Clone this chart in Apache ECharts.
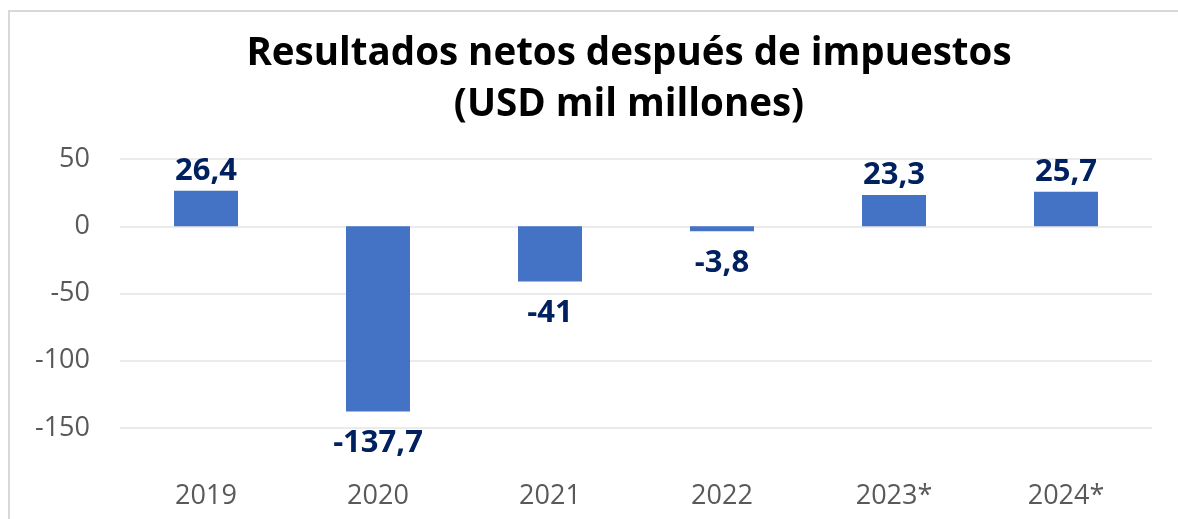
<!DOCTYPE html>
<html>
<head>
<meta charset="utf-8">
<script src="https://cdn.jsdelivr.net/npm/echarts@6/dist/echarts.min.js"></script>
<style>
  html, body { margin: 0; padding: 0; background: #fff; }
  #chart { width: 1178px; height: 519px; }
</style>
</head>
<body>
<div id="chart"></div>
<script>
var years = ["2019", "2020", "2021", "2022", "2023*", "2024*"];
var resultados = [26.4, -137.7, -41, -3.8, 23.3, 25.7];
var yTicks = { min: -150, max: 50, interval: 50 };

var font = "Open Sans";
var myChart = echarts.init(document.getElementById("chart"));

// positivos arriba, negativos debajo de la barra
var barData = resultados.map(function (v) {
  return {
    value: v,
    label: v >= 0 ? { position: "top", distance: 4 } : { position: "bottom", distance: 16 }
  };
});

myChart.setOption({
  animation: false,
  title: {
    text: "Resultados netos después de impuestos\n(USD mil millones)",
    left: 624,
    top: 24,
    textAlign: "center",
    textStyle: {
      fontFamily: font,
      fontWeight: "bold",
      fontSize: 38.5,
      lineHeight: 51,
      color: "#000"
    }
  },
  graphic: [
    {
      type: "rect",
      shape: { x: 9, y: 11, width: 1200, height: 600 },
      style: { fill: "none", stroke: "#d9d9d9", lineWidth: 2 },
      silent: true
    }
  ],
  grid: { left: 120, right: 26, top: 159, bottom: 91 },
  xAxis: {
    type: "category",
    data: years,
    position: "bottom",
    axisLine: { show: false },
    axisTick: { show: false },
    axisLabel: {
      margin: 55,
      fontFamily: font,
      fontSize: 27,
      color: "#595959"
    }
  },
  yAxis: {
    type: "value",
    min: yTicks.min,
    max: yTicks.max,
    interval: yTicks.interval,
    axisLine: { show: false },
    axisTick: { show: false },
    splitLine: { lineStyle: { color: "#ebebeb", width: 2 } },
    axisLabel: {
      margin: 30,
      fontFamily: font,
      fontSize: 27,
      color: "#595959"
    }
  },
  series: [
    {
      type: "bar",
      data: barData,
      barWidth: 64,
      itemStyle: { color: "#4472c4" },
      label: {
        show: true,
        fontFamily: font,
        fontWeight: "bold",
        fontSize: 31,
        color: "#002060",
        formatter: function (p) {
          return String(p.value).replace(".", ",");
        }
      }
    }
  ]
});
</script>
</body>
</html>
